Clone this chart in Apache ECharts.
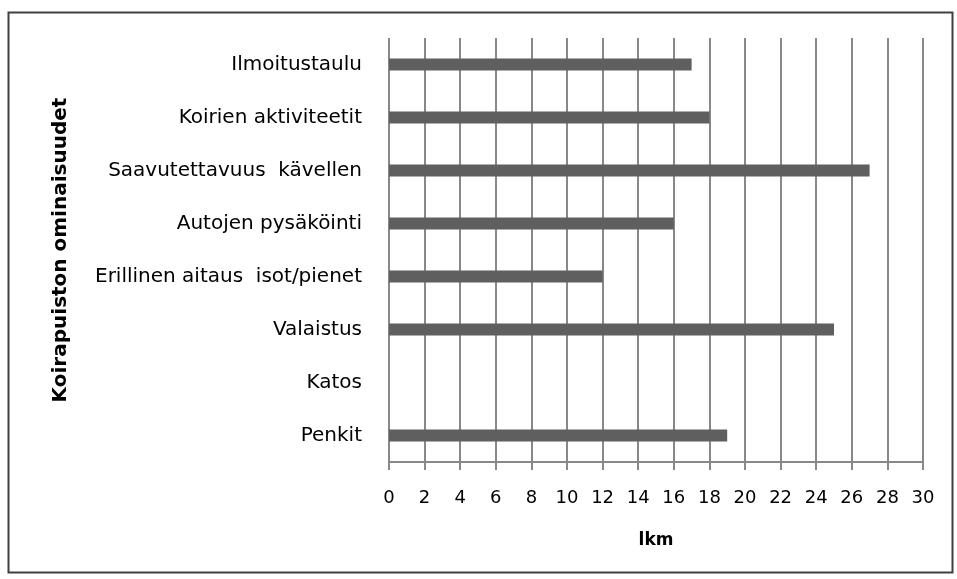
<!DOCTYPE html>
<html>
<head>
<meta charset="utf-8">
<script src="https://cdn.jsdelivr.net/npm/echarts@6/dist/echarts.min.js"></script>
<style>html,body{margin:0;padding:0;background:#fff}#c{width:957px;height:579px}</style>
</head>
<body>
<div id="c"></div>
<script>
const categories = ["Ilmoitustaulu", "Koirien aktiviteetit", "Saavutettavuus  kävellen", "Autojen pysäköinti", "Erillinen aitaus  isot/pienet", "Valaistus", "Katos", "Penkit"];
const values = [17, 18, 27, 16, 12, 25, 0, 19];
const xTicks = {min: 0, max: 30, interval: 2};
const xTitle = "lkm";
const yTitle = "Koirapuiston ominaisuudet";

const FONT = 'DejaVu Sans';
const chart = echarts.init(document.getElementById('c'));
chart.setOption({
  animation: false,
  backgroundColor: '#fff',
  graphic: [{
    type: 'rect', left: 6, top: 10,
    shape: {width: 944, height: 560},
    style: {fill: 'none', stroke: '#404040', lineWidth: 2}
  }],
  grid: {left: 389, right: 34, top: 38, bottom: 117},
  xAxis: {
    type: 'value', min: xTicks.min, max: xTicks.max, interval: xTicks.interval,
    name: xTitle, nameLocation: 'middle', nameGap: 70,
    nameTextStyle: {fontFamily: FONT, fontWeight: 'bold', fontSize: 17, color: '#000'},
    axisLine: {show: true, lineStyle: {color: '#888', width: 2}},
    axisTick: {show: true, length: 8, lineStyle: {color: '#888', width: 2}},
    axisLabel: {fontFamily: FONT, fontSize: 18, color: '#000', margin: 27},
    splitLine: {show: true, lineStyle: {color: '#888', width: 2}}
  },
  yAxis: {
    type: 'category', data: categories, inverse: true,
    name: yTitle, nameLocation: 'middle', nameGap: 318,
    nameTextStyle: {fontFamily: FONT, fontWeight: 'bold', fontSize: 20, color: '#000'},
    axisLine: {show: false}, axisTick: {show: false},
    axisLabel: {fontFamily: FONT, fontSize: 20, color: '#000', margin: 27},
    splitLine: {show: false}
  },
  series: [{
    type: 'bar', data: values, barWidth: 12,
    itemStyle: {color: '#5f5f5f'}
  }]
});
</script>
</body>
</html>
